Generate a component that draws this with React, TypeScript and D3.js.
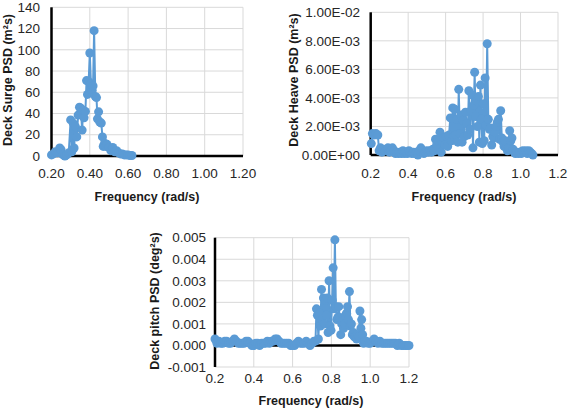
import React from "react";
import * as d3 from "d3";

// ---------- DATA ----------
const SURGE_FREQ = [0.200, 0.210, 0.220, 0.230, 0.243, 0.250, 0.260, 0.270, 0.280, 0.290, 0.300, 0.306, 0.313, 0.318, 0.325, 0.332, 0.339, 0.346, 0.353, 0.360, 0.365, 0.370, 0.377, 0.383, 0.388, 0.394, 0.400, 0.406, 0.412, 0.417, 0.4225, 0.429, 0.435, 0.440, 0.446, 0.452, 0.460, 0.466, 0.470, 0.477, 0.484, 0.490, 0.500, 0.510, 0.520, 0.530, 0.540, 0.550, 0.560, 0.570, 0.580, 0.590, 0.600, 0.610, 0.620];
const SURGE = [1, 2, 4, 3, 7.5, 6, 1, 0, 1, 3, 34, 4, 31, 7.5, 27.5, 18, 38.5, 46, 45, 24.4, 43, 36, 42, 71, 58, 70, 97, 68, 62, 66, 118, 56, 55, 35, 41.6, 32, 31, 18, 9, 12, 9, 11, 8, 5, 8, 4, 5, 3, 2, 2, 1, 1, 1, 0.5, 0.5];

const HEAVE_FREQ = [0.203, 0.209, 0.218, 0.228, 0.238, 0.245, 0.252, 0.260, 0.268, 0.276, 0.284, 0.292, 0.300, 0.308, 0.316, 0.324, 0.332, 0.340, 0.348, 0.356, 0.364, 0.372, 0.380, 0.388, 0.396, 0.404, 0.412, 0.420, 0.428, 0.436, 0.444, 0.452, 0.460, 0.468, 0.476, 0.484, 0.492, 0.500, 0.508, 0.516, 0.524, 0.532, 0.540, 0.546, 0.552, 0.558, 0.564, 0.570, 0.576, 0.582, 0.590, 0.597, 0.604, 0.611, 0.618, 0.625, 0.632, 0.638, 0.645, 0.650, 0.655, 0.660, 0.665, 0.670, 0.676, 0.682, 0.688, 0.694, 0.700, 0.706, 0.712, 0.718, 0.724, 0.730, 0.736, 0.742, 0.746, 0.751, 0.755, 0.760, 0.765, 0.770, 0.775, 0.780, 0.786, 0.791, 0.796, 0.801, 0.806, 0.811, 0.816, 0.822, 0.828, 0.834, 0.840, 0.846, 0.852, 0.858, 0.864, 0.870, 0.876, 0.882, 0.888, 0.894, 0.900, 0.906, 0.912, 0.918, 0.924, 0.930, 0.936, 0.942, 0.948, 0.954, 0.960, 0.966, 0.972, 0.980, 0.988, 0.996, 1.004, 1.012, 1.020, 1.028, 1.036, 1.044, 1.052, 1.060, 1.066];
const HEAVE = [0.0008, 0.0015, 0.0014, 0.0015, 0.0014, 0.0003, 0.0005, 0.0002, 0.0004, 0.0003, 0.0004, 0.0005, 0.0002, 0.0003, 0.0005, 0.0003, 0.0001, 0.0002, 0.0001, 0.0002, 0.0001, 0.0003, 0.0001, 0.0002, 0.0001, 0.0003, 0.0002, 0.0001, 0.0002, 0.0001, 0.0002, 0.0000, 0.0003, 0.0005, 0.0003, 0.0001, 0.0002, 0.0003, 0.0002, 0.0003, 0.0002, 0.0004, 0.0003, 0.0011, 0.0007, 0.0010, 0.0004, 0.0016, 0.0002, 0.0009, 0.0012, 0.0007, 0.0013, 0.0006, 0.0014, 0.0026, 0.0010, 0.0033, 0.0013, 0.0032, 0.0014, 0.0025, 0.0009, 0.0046, 0.0015, 0.0028, 0.0009, 0.0024, 0.0013, 0.0030, 0.0022, 0.0014, 0.0045, 0.0018, 0.0031, 0.0042, 0.0005, 0.0035, 0.0058, 0.0027, 0.0038, 0.0020, 0.0041, 0.0009, 0.0049, 0.0025, 0.0008, 0.0036, 0.0010, 0.0054, 0.0021, 0.0078, 0.0025, 0.0018, 0.0019, 0.0007, 0.0013, 0.0012, 0.0016, 0.0020, 0.0023, 0.0025, 0.0011, 0.0031, 0.0012, 0.0009, 0.0006, 0.0010, 0.0005, 0.0003, 0.0005, 0.0017, 0.0010, 0.0012, 0.0004, 0.0002, 0.0001, 0.0002, 0.0001, 0.0002, 0.0001, 0.0003, 0.0002, 0.0003, 0.0001, 0.0003, 0.0002, 0.0001, 0.0000];

const PITCH_FREQ = [0.200, 0.210, 0.220, 0.230, 0.240, 0.250, 0.260, 0.270, 0.280, 0.290, 0.300, 0.310, 0.320, 0.330, 0.340, 0.350, 0.360, 0.370, 0.380, 0.390, 0.400, 0.410, 0.420, 0.430, 0.440, 0.450, 0.460, 0.470, 0.480, 0.490, 0.500, 0.510, 0.520, 0.530, 0.540, 0.550, 0.560, 0.570, 0.580, 0.590, 0.600, 0.610, 0.620, 0.630, 0.640, 0.650, 0.660, 0.670, 0.680, 0.690, 0.700, 0.710, 0.718, 0.723, 0.728, 0.733, 0.738, 0.743, 0.749, 0.754, 0.759, 0.764, 0.769, 0.774, 0.779, 0.783, 0.788, 0.793, 0.798, 0.804, 0.809, 0.813, 0.818, 0.823, 0.828, 0.833, 0.838, 0.843, 0.848, 0.853, 0.858, 0.863, 0.868, 0.873, 0.878, 0.883, 0.888, 0.893, 0.898, 0.903, 0.908, 0.913, 0.918, 0.923, 0.930, 0.936, 0.942, 0.947, 0.952, 0.956, 0.961, 0.966, 0.972, 0.980, 0.990, 1.000, 1.010, 1.020, 1.030, 1.040, 1.050, 1.060, 1.070, 1.080, 1.090, 1.100, 1.110, 1.120, 1.130, 1.140, 1.150, 1.160, 1.170, 1.180, 1.190, 1.200];
const PITCH = [0.0003, 0.0001, 0.0002, 0.0001, 0.0001, 0.0002, 0.0002, 0.0001, 0.0001, 0.0002, 0.0003, 0.0002, 0.0001, 0.0001, 0.0001, 0.0001, 0.0002, 0.0002, 0.0001, 0.0000, 0.0000, 0.0001, 0.0001, 0.0000, 0.0001, 0.0001, 0.0001, 0.0002, 0.0001, 0.0002, 0.0002, 0.0003, 0.0003, 0.0002, 0.0001, 0.0001, 0.0001, 0.0001, 0.0001, 0.0000, 0.0000, 0.0000, 0.0001, 0.0002, 0.0001, 0.0001, 0.0001, 0.0002, 0.0001, 0.0000, 0.0001, 0.0002, 0.0002, 0.0017, 0.0014, 0.0003, 0.0015, 0.0009, 0.0026, 0.0012, 0.0022, 0.0010, 0.0021, 0.0014, 0.0022, 0.0006, 0.0030, 0.0009, 0.0007, 0.0021, 0.0036, 0.0017, 0.0049, 0.0018, 0.0012, 0.0013, 0.0018, 0.0013, 0.0005, 0.0010, 0.0012, 0.0008, 0.0010, 0.0014, 0.0015, 0.0018, 0.0012, 0.0025, 0.0009, 0.0010, 0.0005, 0.0006, 0.0004, 0.0004, 0.0003, 0.0005, 0.0004, 0.0016, 0.0008, 0.0012, 0.0005, 0.0001, 0.0002, 0.0002, 0.0001, 0.0001, 0.0002, 0.0003, 0.0002, 0.0001, 0.0002, 0.0001, 0.0001, 0.0001, 0.0001, 0.0001, 0.0001, 0.0001, 0.0001, 0.0000, 0.0001, 0.0000, 0.0000, 0.0000, 0.0000, 0.0000];

const X_TICKS = [0.2, 0.4, 0.6, 0.8, 1.0, 1.2];
const X_LABELS_2DP = ["0.20", "0.40", "0.60", "0.80", "1.00", "1.20"];
const X_LABELS_1DP = ["0.2", "0.4", "0.6", "0.8", "1.0", "1.2"];

const SURGE_Y_TICKS = [0, 20, 40, 60, 80, 100, 120, 140];
const SURGE_Y_LABELS = ["0", "20", "40", "60", "80", "100", "120", "140"];
const HEAVE_Y_TICKS = [0, 0.002, 0.004, 0.006, 0.008, 0.01];
const HEAVE_Y_LABELS = ["0.00E+00", "2.00E-03", "4.00E-03", "6.00E-03", "8.00E-03", "1.00E-02"];
const PITCH_Y_TICKS = [-0.001, 0, 0.001, 0.002, 0.003, 0.004, 0.005];
const PITCH_Y_LABELS = ["-0.001", "0.000", "0.001", "0.002", "0.003", "0.004", "0.005"];

const BLUE = "#5b9bd5";
const FONT = "'Liberation Sans', Arial, sans-serif";

type PanelProps = {
  freq: number[];
  vals: number[];
  yTicks: number[];
  yLabels: string[];
  xLabels: string[];
  x0: number; x1: number; yTop: number; yBot: number;
  yTitle: string;
  yTitleX: number; yTitleY: number;
  xTitleX: number; xTitleY: number;
  xLabelY: number;
  yLabelRight: number;
};

function Panel(p: PanelProps) {
  const yMin = p.yTicks[0];
  const yMax = p.yTicks[p.yTicks.length - 1];
  const x = d3.scaleLinear().domain([0.2, 1.2]).range([p.x0, p.x1]);
  const y = d3.scaleLinear().domain([yMin, yMax]).range([p.yBot, p.yTop]);
  const pts = p.freq.map((f, i) => [f, p.vals[i]] as [number, number]);
  const line = d3.line<[number, number]>().x(d => x(d[0])).y(d => y(d[1]));
  const y0 = y(0);
  return (
    <g>
      {p.yTicks.map((t, i) => (
        <line key={"h" + i} x1={p.x0} x2={p.x1} y1={y(t)} y2={y(t)} stroke="#d9d9d9" strokeWidth={1} />
      ))}
      {X_TICKS.map((t, i) => (
        <line key={"v" + i} x1={x(t)} x2={x(t)} y1={p.yTop} y2={p.yBot} stroke="#d9d9d9" strokeWidth={1} />
      ))}
      <line x1={p.x0} x2={p.x1} y1={y0} y2={y0} stroke="#000" strokeWidth={2.5} />
      <line x1={p.x0} x2={p.x0} y1={p.yTop} y2={p.yBot} stroke="#000" strokeWidth={2.5} />
      <path d={line(pts) || ""} fill="none" stroke={BLUE} strokeWidth={2} strokeLinejoin="round" />
      {pts.map((d, i) => (
        <circle key={"c" + i} cx={x(d[0])} cy={y(d[1])} r={4.5} fill={BLUE} />
      ))}
      {p.yTicks.map((t, i) => (
        <text key={"yl" + i} x={p.yLabelRight} y={y(t)} dy="0.35em" textAnchor="end" fontSize={13.5} fontFamily={FONT} fill="#262626">{p.yLabels[i]}</text>
      ))}
      {X_TICKS.map((t, i) => (
        <text key={"xl" + i} x={x(t)} y={p.xLabelY} dy="0.35em" textAnchor="middle" fontSize={13.5} fontFamily={FONT} fill="#262626">{p.xLabels[i]}</text>
      ))}
      <text x={p.xTitleX} y={p.xTitleY} dy="0.35em" textAnchor="middle" fontSize={12.5} fontWeight="bold" fontFamily={FONT} fill="#1a1a1a">Frequency (rad/s)</text>
      <text transform={`translate(${p.yTitleX},${p.yTitleY}) rotate(-90)`} dy="0.35em" textAnchor="middle" fontSize={12.5} fontWeight="bold" fontFamily={FONT} fill="#1a1a1a">{p.yTitle}</text>
    </g>
  );
}

export default function App() {
  return (
    <svg width={568} height={410} style={{ position: "absolute", left: 0, top: 0, background: "#fff" }}>
      <rect width={568} height={410} fill="#fff" />
      <Panel freq={SURGE_FREQ} vals={SURGE} yTicks={SURGE_Y_TICKS} yLabels={SURGE_Y_LABELS} xLabels={X_LABELS_2DP}
        x0={51.5} x1={243} yTop={7.3} yBot={156}
        yTitle="Deck Surge PSD (m²s)" yTitleX={8} yTitleY={80}
        xTitleX={147} xTitleY={197} xLabelY={173} yLabelRight={40} />
      <Panel freq={HEAVE_FREQ} vals={HEAVE} yTicks={HEAVE_Y_TICKS} yLabels={HEAVE_Y_LABELS} xLabels={X_LABELS_1DP}
        x0={370.7} x1={558} yTop={12.3} yBot={155}
        yTitle="Deck Heave PSD (m²s)" yTitleX={294} yTitleY={80}
        xTitleX={464} xTitleY={197} xLabelY={173} yLabelRight={360} />
      <Panel freq={PITCH_FREQ} vals={PITCH} yTicks={PITCH_Y_TICKS} yLabels={PITCH_Y_LABELS} xLabels={X_LABELS_1DP}
        x0={215} x1={409} yTop={237.7} yBot={367}
        yTitle="Deck pitch PSD (deg²s)" yTitleX={155} yTitleY={301}
        xTitleX={311} xTitleY={401} xLabelY={378} yLabelRight={206} />
    </svg>
  );
}
